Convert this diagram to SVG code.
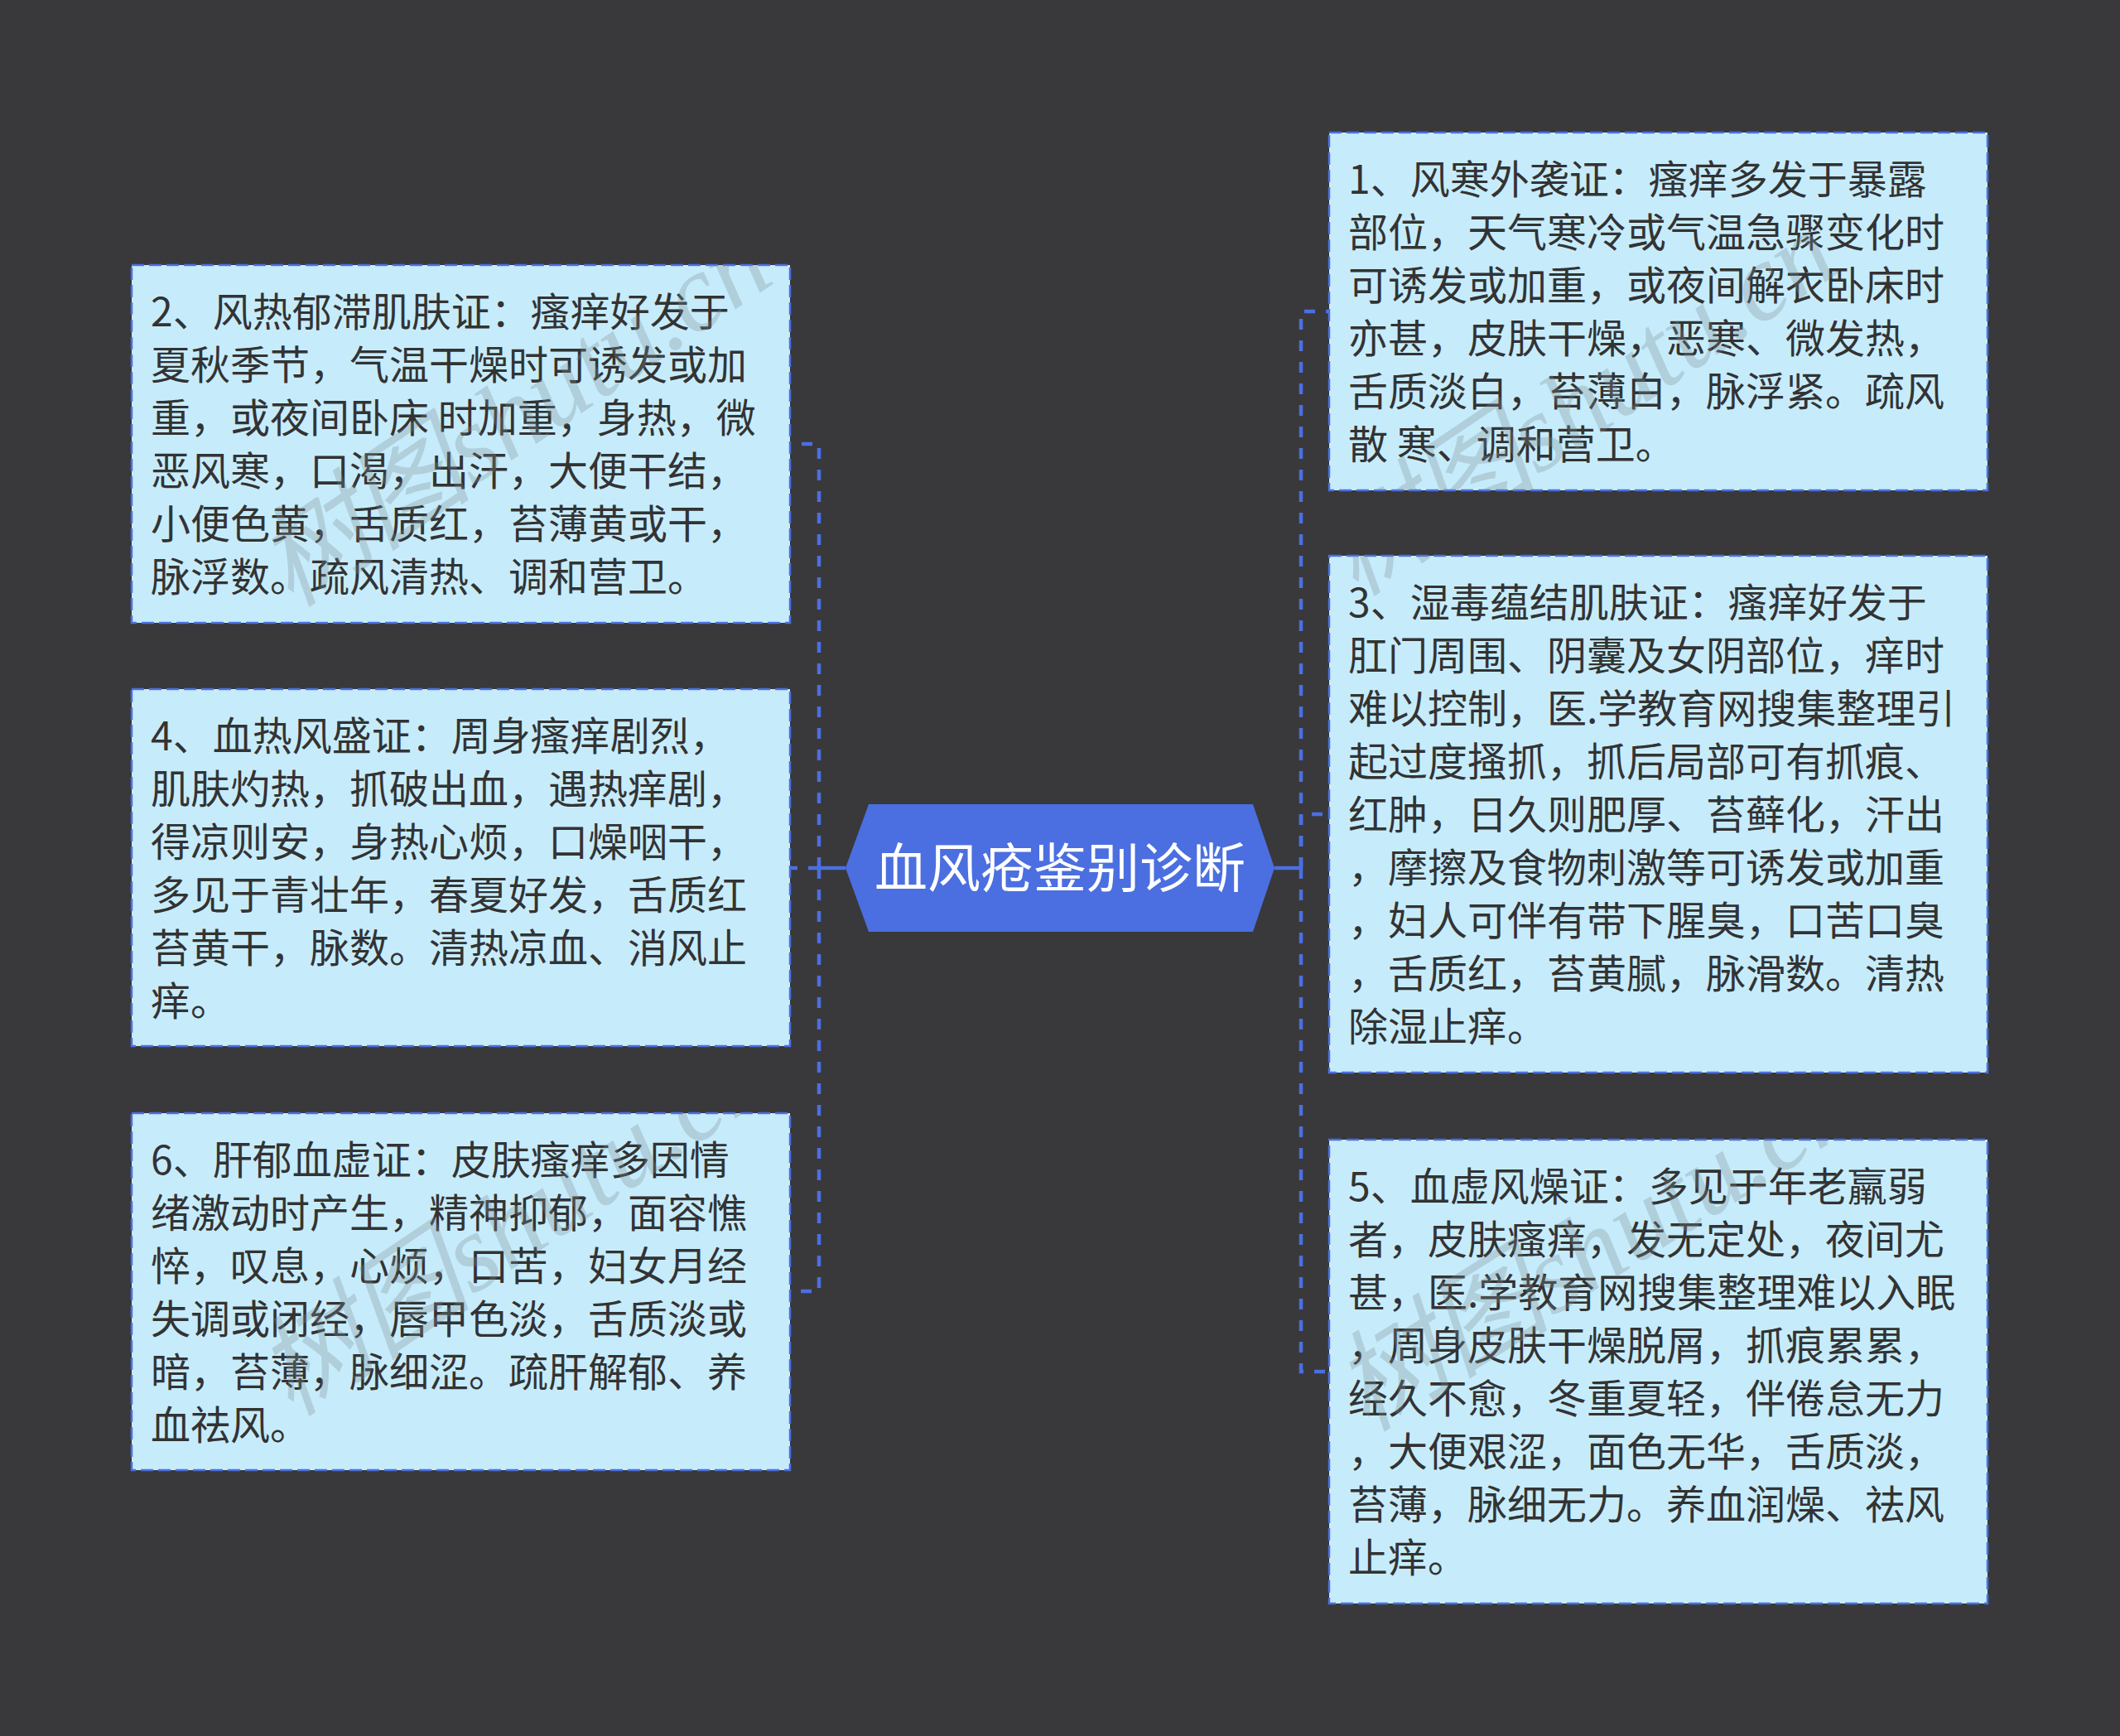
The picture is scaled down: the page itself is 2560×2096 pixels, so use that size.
<svg xmlns="http://www.w3.org/2000/svg" width="2560" height="2096" viewBox="0 0 2560 2096">
<style>
.bg{fill:#39383b}
.box{fill:#c6ecfc;stroke:#4b6fe0;stroke-width:2.5;stroke-dasharray:15 6}
.t{font-family:"Noto Sans CJK SC","Noto Sans",sans-serif;font-size:48px;fill:#333333}
.conn{fill:none;stroke:#4b6fe0;stroke-width:4.5;stroke-dasharray:13 13}
.stub{fill:none;stroke:#4b6fe0;stroke-width:4.5}
.wm{font-family:"Liberation Serif","Noto Sans CJK SC",serif;font-style:italic;font-size:132px;fill:#7f8a90;fill-opacity:0.3}
</style>
<defs>
  <clipPath id="boxclip">
    <rect x="1605" y="160" width="795" height="432"/>
    <rect x="159" y="320" width="795" height="432"/>
    <rect x="1605" y="671" width="795" height="624"/>
    <rect x="159" y="832" width="795" height="431"/>
    <rect x="1605" y="1376" width="795" height="560"/>
    <rect x="159" y="1344" width="795" height="431"/>
  </clipPath>
</defs>
<rect class="bg" x="0" y="0" width="2560" height="2096"/>

<g id="connectors">
  <line class="stub" x1="1021" y1="1048" x2="989" y2="1048"/>
  <line class="stub" x1="1539" y1="1048" x2="1571" y2="1048"/>
  <path class="conn" d="M989 1048 V536 H954"/>
  <path class="conn" d="M989 1048 H954"/>
  <path class="conn" d="M989 1048 V1559 H954"/>
  <path class="conn" d="M1571 1048 V376 H1605"/>
  <path class="conn" d="M1571 1048 V983 H1605"/>
  <path class="conn" d="M1571 1048 V1656 H1605"/>
</g>

<g id="center">
  <polygon points="1021,1048 1049,971 1513,971 1539,1048 1513,1125 1049,1125" fill="#4b6fe0"/>
  <text x="1280" y="1071" text-anchor="middle" font-family="Noto Sans CJK SC,Noto Sans,sans-serif" font-size="64" fill="#ffffff">血风疮鉴别诊断</text>
</g>

<g id="node1">
  <rect class="box" x="1605" y="160" width="795" height="432"/>
  <text class="t">
    <tspan x="1628" y="234">1、风寒外袭证：瘙痒多发于暴露</tspan>
    <tspan x="1628" y="298">部位，天气寒冷或气温急骤变化时</tspan>
    <tspan x="1628" y="362">可诱发或加重，或夜间解衣卧床时</tspan>
    <tspan x="1628" y="426">亦甚，皮肤干燥，恶寒、微发热，</tspan>
    <tspan x="1628" y="490">舌质淡白，苔薄白，脉浮紧。疏风</tspan>
    <tspan x="1628" y="554">散 寒、调和营卫。</tspan>
  </text>
</g>

<g id="node2">
  <rect class="box" x="159" y="320" width="795" height="432"/>
  <text class="t">
    <tspan x="182" y="394">2、风热郁滞肌肤证：瘙痒好发于</tspan>
    <tspan x="182" y="458">夏秋季节，气温干燥时可诱发或加</tspan>
    <tspan x="182" y="522">重，或夜间卧床 时加重，身热，微</tspan>
    <tspan x="182" y="586">恶风寒，口渴，出汗，大便干结，</tspan>
    <tspan x="182" y="650">小便色黄，舌质红，苔薄黄或干，</tspan>
    <tspan x="182" y="714">脉浮数。疏风清热、调和营卫。</tspan>
  </text>
</g>

<g id="node3">
  <rect class="box" x="1605" y="671" width="795" height="624"/>
  <text class="t">
    <tspan x="1628" y="745">3、湿毒蕴结肌肤证：瘙痒好发于</tspan>
    <tspan x="1628" y="809">肛门周围、阴囊及女阴部位，痒时</tspan>
    <tspan x="1628" y="873">难以控制，医.学教育网搜集整理引</tspan>
    <tspan x="1628" y="937">起过度搔抓，抓后局部可有抓痕、</tspan>
    <tspan x="1628" y="1001">红肿，日久则肥厚、苔藓化，汗出</tspan>
    <tspan x="1628" y="1065">，摩擦及食物刺激等可诱发或加重</tspan>
    <tspan x="1628" y="1129">，妇人可伴有带下腥臭，口苦口臭</tspan>
    <tspan x="1628" y="1193">，舌质红，苔黄腻，脉滑数。清热</tspan>
    <tspan x="1628" y="1257">除湿止痒。</tspan>
  </text>
</g>

<g id="node4">
  <rect class="box" x="159" y="832" width="795" height="431"/>
  <text class="t">
    <tspan x="182" y="906">4、血热风盛证：周身瘙痒剧烈，</tspan>
    <tspan x="182" y="970">肌肤灼热，抓破出血，遇热痒剧，</tspan>
    <tspan x="182" y="1034">得凉则安，身热心烦，口燥咽干，</tspan>
    <tspan x="182" y="1098">多见于青壮年，春夏好发，舌质红</tspan>
    <tspan x="182" y="1162">苔黄干，脉数。清热凉血、消风止</tspan>
    <tspan x="182" y="1226">痒。</tspan>
  </text>
</g>

<g id="node5">
  <rect class="box" x="1605" y="1376" width="795" height="560"/>
  <text class="t">
    <tspan x="1628" y="1450">5、血虚风燥证：多见于年老羸弱</tspan>
    <tspan x="1628" y="1514">者，皮肤瘙痒，发无定处，夜间尤</tspan>
    <tspan x="1628" y="1578">甚，医.学教育网搜集整理难以入眠</tspan>
    <tspan x="1628" y="1642">，周身皮肤干燥脱屑，抓痕累累，</tspan>
    <tspan x="1628" y="1706">经久不愈，冬重夏轻，伴倦怠无力</tspan>
    <tspan x="1628" y="1770">，大便艰涩，面色无华，舌质淡，</tspan>
    <tspan x="1628" y="1834">苔薄，脉细无力。养血润燥、祛风</tspan>
    <tspan x="1628" y="1898">止痒。</tspan>
  </text>
</g>

<g id="node6">
  <rect class="box" x="159" y="1344" width="795" height="431"/>
  <text class="t">
    <tspan x="182" y="1418">6、肝郁血虚证：皮肤瘙痒多因情</tspan>
    <tspan x="182" y="1482">绪激动时产生，精神抑郁，面容憔</tspan>
    <tspan x="182" y="1546">悴，叹息，心烦，口苦，妇女月经</tspan>
    <tspan x="182" y="1610">失调或闭经，唇甲色淡，舌质淡或</tspan>
    <tspan x="182" y="1674">暗，苔薄，脉细涩。疏肝解郁、养</tspan>
    <tspan x="182" y="1738">血祛风。</tspan>
  </text>
</g>

<g id="watermark" clip-path="url(#boxclip)">
  <text class="wm" transform="translate(352,735) rotate(-34)">树图shutu.cn</text>
  <text class="wm" transform="translate(1638,722) rotate(-34)">树图shutu.cn</text>
  <text class="wm" transform="translate(352,1712) rotate(-34)">树图shutu.cn</text>
  <text class="wm" transform="translate(1650,1730) rotate(-32)">树图shutu.cn</text>
</g>
</svg>
